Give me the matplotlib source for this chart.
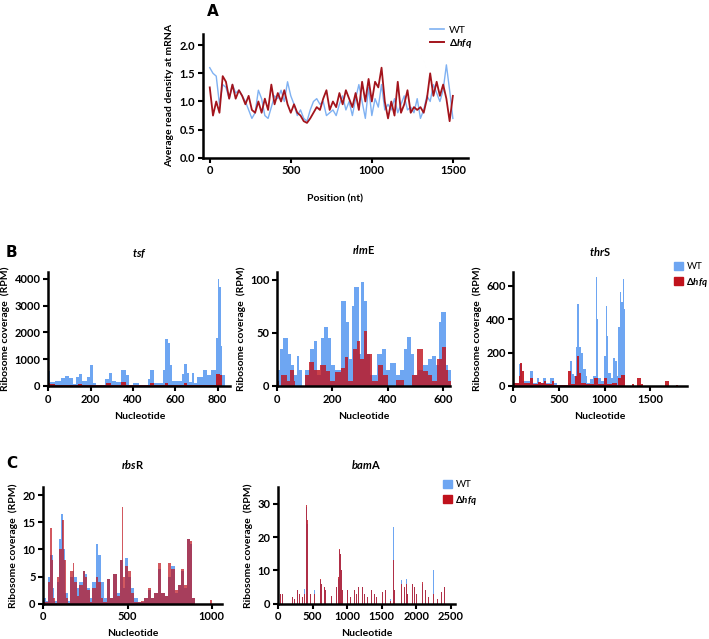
import numpy as np
import matplotlib
matplotlib.use('Agg')
import matplotlib.pyplot as plt
from matplotlib.patches import Patch
from matplotlib.lines import Line2D

plt.rcParams['font.family'] = ['Lato', 'DejaVu Sans']
plt.rcParams['mathtext.fontset'] = 'custom'
plt.rcParams['mathtext.it'] = 'Lato:italic:bold'
plt.rcParams['mathtext.rm'] = 'Lato:bold'

# ---- panel A: average read density along mRNA
pos_a = np.arange(0, 1501, 20)
dens_wt = [1.6, 1.5, 1.45, 0.95, 1.3, 1.25, 1.05, 1.3, 1.15, 1.2, 1.1, 1.0, 0.85, 0.7, 0.8, 1.2,
           1.05, 0.75, 0.7, 0.9, 1.1, 1.05, 1.2, 1.0, 1.35, 1.1, 0.95, 0.75, 0.85, 0.7, 0.65, 0.85,
           1.0, 1.05, 0.95, 1.0, 0.75, 0.8, 0.85, 0.75, 0.95, 1.1, 0.85, 1.0, 0.75, 1.05, 1.3, 1.0,
           0.7, 1.25, 0.75, 1.05, 0.9, 1.3, 0.85, 0.95, 0.85, 1.05, 0.8, 0.95, 1.1, 0.85, 0.9, 0.8,
           1.05, 0.7, 0.85, 1.1, 1.0, 1.3, 1.15, 1.0, 1.2, 1.65, 1.2, 0.7]
dens_hfq = [1.25, 0.75, 1.0, 0.8, 1.45, 1.35, 1.05, 1.3, 1.05, 1.2, 1.1, 0.95, 1.1, 0.85, 0.8, 1.0,
            0.8, 1.05, 0.85, 1.3, 0.95, 1.15, 1.0, 1.2, 0.95, 0.8, 0.95, 0.8, 0.75, 0.65, 0.62, 0.7,
            0.8, 0.9, 0.85, 1.05, 1.2, 0.85, 1.0, 0.9, 1.15, 0.95, 1.2, 1.05, 0.9, 1.15, 0.85, 1.35,
            1.0, 1.4, 1.0, 1.35, 1.25, 1.6, 1.0, 0.7, 1.0, 0.75, 1.35, 0.8, 0.95, 1.2, 0.8, 0.9,
            0.85, 0.9, 0.8, 1.05, 1.5, 1.1, 1.35, 1.1, 1.3, 1.05, 0.65, 1.1]

# ---- panel B: ribosome coverage (segment starts / RPM), last segment ends at *_end
tsf_wt_x = [0, 10, 30, 60, 80, 100, 115, 130, 145, 160, 185, 195, 210, 225, 270, 285, 300, 320, 345,
            365, 380, 400, 430, 470, 480, 500, 540, 550, 565, 575, 585, 630, 640, 655, 665, 680, 690,
            700, 730, 750, 770, 790, 800, 808, 815, 822]
tsf_wt = [550, 150, 180, 300, 380, 300, 80, 350, 450, 200, 350, 780, 100, 30, 250, 480, 200, 150, 580,
          400, 50, 120, 50, 250, 580, 100, 600, 1750, 1600, 800, 200, 450, 820, 500, 150, 500, 100,
          350, 580, 400, 600, 1800, 4000, 3700, 1500, 400]
tsf_hfq_x = [0, 10, 30, 140, 160, 275, 295, 345, 365, 480, 500, 550, 565, 640, 655, 790, 810, 822]
tsf_hfq = [100, 80, 20, 80, 20, 120, 20, 130, 20, 120, 20, 100, 20, 100, 20, 450, 400, 0]
tsf_end = 835

rlm_wt_x = [0, 10, 20, 40, 50, 60, 70, 80, 90, 100, 120, 135, 145, 160, 170, 185, 195, 210, 230, 250,
            260, 270, 280, 295, 302, 315, 325, 335, 360, 380, 395, 410, 430, 445, 460, 470, 485, 495,
            510, 530, 545, 560, 575, 585, 595, 610, 620]
rlm_wt = [15, 35, 45, 30, 20, 10, 28, 15, 0, 15, 35, 42, 10, 45, 55, 45, 20, 15, 80, 60, 25, 75, 93, 30,
          98, 80, 30, 10, 30, 35, 15, 22, 10, 15, 35, 46, 30, 10, 15, 20, 25, 28, 20, 60, 70, 20, 15]
rlm_hfq_x = [0, 5, 15, 35, 45, 60, 65, 100, 115, 135, 155, 175, 190, 210, 230, 245, 255, 275, 288, 300,
             315, 325, 345, 365, 385, 400, 430, 460, 490, 505, 530, 545, 560, 580, 598, 610, 620]
rlm_hfq = [5, 0, 10, 5, 15, 5, 0, 10, 23, 15, 20, 14, 5, 13, 17, 27, 5, 35, 42, 25, 52, 30, 5, 20, 10,
           0, 6, 0, 10, 35, 14, 10, 5, 25, 37, 15, 5]
rlm_end = 630

thr_wt_x = [0, 60, 100, 180, 210, 260, 280, 320, 360, 400, 440, 480, 600, 620, 640, 660, 690, 700, 715,
            735, 760, 790, 810, 840, 870, 900, 915, 930, 960, 990, 1010, 1025, 1040, 1070, 1090, 1110,
            1130, 1150, 1165, 1180, 1195, 1210]
thr_wt = [20, 130, 30, 90, 15, 45, 20, 45, 20, 50, 20, 5, 20, 150, 70, 60, 230, 490, 230, 200, 100, 60,
          20, 40, 60, 650, 400, 50, 30, 180, 480, 300, 80, 50, 170, 150, 60, 350, 560, 500, 640, 460]
thr_wt_end = 1225
thr_hfq_x = [0, 60, 75, 100, 120, 180, 210, 270, 300, 340, 360, 420, 440, 600, 630, 680, 700, 720, 740,
             800, 880, 930, 990, 1030, 1080, 1130, 1150, 1180, 1220, 1300, 1320, 1350, 1400, 1420, 1660,
             1700, 1780, 1800]
thr_hfq = [15, 60, 140, 90, 20, 50, 10, 25, 15, 30, 10, 30, 5, 90, 10, 60, 180, 80, 20, 10, 50, 10, 50,
           10, 20, 5, 50, 65, 0, 10, 0, 50, 10, 0, 30, 0, 8, 0]
thr_hfq_end = 1820

# ---- panel C
rbs_wt_x = [0, 15, 30, 40, 55, 65, 80, 95, 105, 120, 130, 145, 160, 175, 185, 200, 215, 235, 250, 260,
            275, 290, 310, 325, 340, 360, 380, 395, 415, 440, 455, 475, 485, 500, 520, 540, 560, 600,
            620, 640, 660, 680, 700, 720, 740, 760, 780, 800, 815, 835, 850, 870, 885]
rbs_wt = [1, 0.5, 5, 9, 3, 0.5, 4, 12, 16.5, 10, 2, 0.5, 5, 6, 5, 3, 4, 6, 5.5, 3, 1, 4, 11, 9, 4, 1,
          4.5, 1, 5.5, 2, 8, 3, 8.5, 5, 3, 1, 0.3, 1, 2.5, 1, 2, 6.5, 2, 1.5, 5, 7, 2, 3.5, 6, 3, 12,
          11, 1]
rbs_wt_end = 900
rbs_hfq_x = [0, 30, 40, 52, 60, 70, 80, 95, 110, 125, 135, 145, 160, 175, 185, 200, 215, 235, 250, 260,
             275, 290, 310, 325, 345, 355, 380, 395, 415, 440, 455, 465, 475, 485, 500, 520, 540, 580,
             600, 620, 640, 660, 680, 700, 720, 740, 760, 780, 800, 815, 835, 850, 870, 885, 900, 990]
rbs_hfq = [0.3, 4, 14, 8, 1, 0.2, 5, 10, 15.5, 8, 1, 0.2, 6, 7.5, 4, 1.5, 3.5, 6, 5, 2.5, 0.3, 3, 5, 4,
           1, 0.3, 4.5, 1, 5.5, 1.5, 8, 17.8, 5, 7, 6, 2, 0.3, 0.5, 1, 3, 1, 2, 7.5, 2, 1.5, 7.5, 6.5,
           2.5, 3.5, 6.5, 3.5, 12, 11.5, 1, 0, 0.8]
rbs_hfq_end = 1000

bam_pos = [5, 40, 65, 160, 210, 240, 280, 310, 350, 380, 410, 425, 475, 530, 610, 630, 670, 690, 770,
           810, 840, 870, 885, 900, 915, 930, 1010, 1055, 1110, 1135, 1160, 1215, 1250, 1290, 1350,
           1390, 1430, 1510, 1550, 1620, 1665, 1690, 1790, 1830, 1850, 1875, 1950, 1970, 2000, 2090,
           2130, 2170, 2240, 2300, 2360, 2410]
bam_wt = [5, 3, 3, 2, 2, 1.5, 4, 3, 2, 4.5, 29, 24, 3, 4, 7, 6, 5, 4, 2.5, 3, 5, 7.5, 16, 15, 10, 4, 4,
          2, 4, 3, 5, 5, 3, 2, 4, 3, 2, 3.5, 4, 1.5, 23, 4, 7, 5, 7.5, 3, 6, 5, 3, 6, 4, 2, 10, 1.5,
          3.5, 5]
bam_hfq = [5, 3, 3, 2, 2, 1.5, 4, 3, 2, 3, 29.5, 25, 3, 3, 7.5, 6, 5, 4, 2.5, 3, 5, 8, 16.5, 15, 10, 4,
           4, 2, 4, 3, 5, 5, 3, 2, 4, 3, 2, 3.5, 4, 1, 13, 4, 6, 5, 6, 3, 6, 5, 3, 6.5, 4, 2, 3, 1.5,
           3.5, 5]

blue = '#6ea6f2'
red = '#c0121c'
LAB = dict(fontsize=7.5, fontweight='bold')


def style(ax, xlim, ylim, xt, yt):
    for s in ['top', 'right']:
        ax.spines[s].set_visible(False)
    for s in ['left', 'bottom']:
        ax.spines[s].set_linewidth(1.8)
    ax.set_xlim(*xlim)
    ax.set_ylim(*ylim)
    ax.set_xticks(xt)
    ax.set_yticks(yt)
    ax.tick_params(width=1.5, length=3.5, pad=2, labelsize=8)
    for t in ax.get_xticklabels() + ax.get_yticklabels():
        t.set_fontweight('bold')


def steps(ax, xs, ys, end, **kw):
    x = list(xs) + [end]
    y = list(ys) + [ys[-1]]
    ax.fill_between(x, y, step='post', lw=0, **kw)


def legend_sq(x, y):
    fig.legend([Patch(color=blue), Patch(color=red)], ['WT', r'$\Delta\mathit{hfq}$'],
               loc='upper left', bbox_to_anchor=(x / 709, 1 - y / 639), frameon=False, fontsize=7,
               handlelength=0.9, handleheight=0.9, handletextpad=0.4, labelspacing=0.45,
               borderpad=0.1)


fig = plt.figure(figsize=(7.09, 6.39), dpi=100)

# A
axa = fig.add_axes([0.286, 0.753, 0.374, 0.194])
axa.plot(pos_a, dens_wt, color='#7fb1f2', lw=1.0)
axa.plot(pos_a, dens_hfq, color='#a3141c', lw=1.3)
style(axa, (-43, 1593), (0, 2.2), [0, 500, 1000, 1500], [0, 0.5, 1.0, 1.5, 2.0])
axa.yaxis.set_major_formatter(matplotlib.ticker.FormatStrFormatter('%.1f'))
axa.set_ylabel('Average read density at mRNA', labelpad=4, **LAB)
axa.set_xlabel('Position (nt)', labelpad=13, **LAB)
fig.legend([Line2D([], [], color='#7fb1f2', lw=1.2), Line2D([], [], color='#a3141c', lw=1.4)],
           ['WT', r'$\Delta\mathit{hfq}$'], loc='upper left', bbox_to_anchor=(423 / 709, 1 - 18 / 639),
           frameon=False, fontsize=7.5, handlelength=1.3, handletextpad=0.5, labelspacing=0.2,
           borderpad=0.2)

# B
axb1 = fig.add_axes([0.068, 0.396, 0.257, 0.178])
steps(axb1, tsf_wt_x, tsf_wt, tsf_end, color=blue)
steps(axb1, tsf_hfq_x, tsf_hfq, tsf_end, color=red, alpha=0.9)
style(axb1, (0, 860), (0, 4250), [0, 200, 400, 600, 800], [0, 1000, 2000, 3000, 4000])
axb1.set_title(r'$\mathit{tsf}$', fontsize=8, fontweight='bold', pad=11)

axb2 = fig.add_axes([0.391, 0.396, 0.244, 0.178])
steps(axb2, rlm_wt_x, rlm_wt, rlm_end, color=blue)
steps(axb2, rlm_hfq_x, rlm_hfq, rlm_end, color=red, alpha=0.8)
style(axb2, (0, 627), (0, 107), [0, 200, 400, 600], [0, 50, 100])
axb2.set_title(r'$\mathit{rlm}$E', fontsize=8, fontweight='bold', pad=13)

axb3 = fig.add_axes([0.724, 0.396, 0.245, 0.178])
steps(axb3, thr_wt_x, thr_wt, thr_wt_end, color=blue)
steps(axb3, thr_hfq_x, thr_hfq, thr_hfq_end, color=red, alpha=0.9)
style(axb3, (0, 1900), (0, 680), [0, 500, 1000, 1500], [0, 200, 400, 600])
axb3.set_title(r'$\mathit{thr}$S', fontsize=8, fontweight='bold', pad=12)

for ax in (axb1, axb2, axb3):
    ax.set_ylabel('Ribosome coverage  (RPM)', labelpad=3, **LAB)
    ax.set_xlabel('Nucleotide', labelpad=5, **LAB)

legend_sq(668, 256)

# C
axc1 = fig.add_axes([0.061, 0.055, 0.252, 0.183])
steps(axc1, rbs_wt_x, rbs_wt, rbs_wt_end, color=blue)
steps(axc1, rbs_hfq_x, rbs_hfq, rbs_hfq_end, color=red, alpha=0.7)
style(axc1, (0, 1060), (0, 21.5), [0, 500, 1000], [0, 5, 10, 15, 20])
axc1.set_title(r'$\mathit{rbs}$R', fontsize=8, fontweight='bold', pad=13)

axc2 = fig.add_axes([0.392, 0.055, 0.25, 0.183])
axc2.bar(bam_pos, bam_wt, width=14, color=blue, lw=0)
axc2.bar(bam_pos, bam_hfq, width=14, color=red, alpha=0.8, lw=0)
style(axc2, (0, 2560), (0, 35), [0, 500, 1000, 1500, 2000, 2500], [0, 10, 20, 30])
axc2.set_title(r'$\mathit{bam}$A', fontsize=8, fontweight='bold', pad=13)

for ax in (axc1, axc2):
    ax.set_ylabel('Ribosome coverage  (RPM)', labelpad=3, **LAB)
    ax.set_xlabel('Nucleotide', labelpad=5, **LAB)

legend_sq(437, 474)

fig.text(213 / 709, 1 - 12 / 639, 'A', fontsize=11, fontweight='bold', ha='center', va='center',
         family='DejaVu Sans')
fig.text(11 / 709, 1 - 253 / 639, 'B', fontsize=11, fontweight='bold', ha='center', va='center',
         family='DejaVu Sans')
fig.text(12 / 709, 1 - 463 / 639, 'C', fontsize=11, fontweight='bold', ha='center', va='center',
         family='DejaVu Sans')

fig.savefig('out.png', dpi=100)
